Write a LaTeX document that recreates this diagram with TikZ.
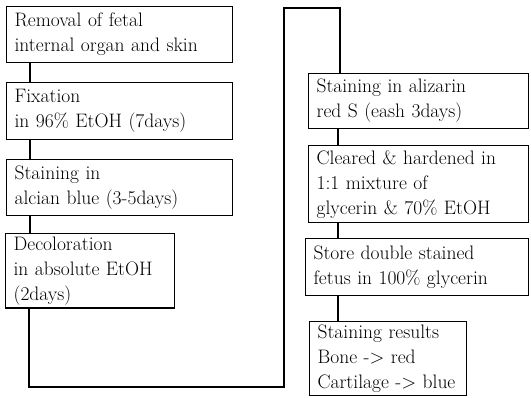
\documentclass[tikz,border=0pt]{standalone}
\begin{document}
\begin{tikzpicture}[x=1pt,y=-1pt,
        stepbox/.style={draw, line width=1.2pt, anchor=north west, align=left,
            inner xsep=8pt, inner ysep=3pt, font=\fontsize{19.5}{25}\selectfont},
        link/.style={line width=1.2pt}]
        \useasboundingbox (0,0) rectangle (531,397);
        % left column
        \node[stepbox, text width=210pt, minimum height=56pt] (removal) at (6,6) {Removal of fetal\\internal organ and skin};
        \node[stepbox, text width=210pt, minimum height=57pt] (fixation) at (6,82) {Fixation\\in 96\% EtOH (7days)};
        \node[stepbox, text width=210pt, minimum height=56pt] (alcian) at (6,159) {Staining in\\alcian blue (3-5days)};
        \node[stepbox, text width=153pt, minimum height=74pt] (decolor) at (5,233) {Decoloration\\in absolute EtOH\\(2days)};
        % right column
        \node[stepbox, text width=204pt, minimum height=55pt] (alizarin) at (308,73) {Staining in alizarin\\red S (eash 3days)};
        \node[stepbox, text width=204pt, minimum height=77pt] (cleared) at (308,145) {Cleared \& hardened in\\1:1 mixture of\\glycerin \& 70\% EtOH};
        \node[stepbox, text width=207pt, minimum height=57pt] (store) at (305,238) {Store double stained\\fetus in 100\% glycerin};
        \node[stepbox, text width=141pt, minimum height=72pt] (results) at (309,321) {Staining results\\Bone -> red\\Cartilage -> blue};
        \coordinate (bottomturn) at (284,387);
        \coordinate (topturn) at (340,8);
        % connectors
        \draw[link] ([xshift=24pt]removal.south west) -- ([xshift=24pt]fixation.north west);
        \draw[link] ([xshift=24pt]fixation.south west) -- ([xshift=24pt]alcian.north west);
        \draw[link] ([xshift=24pt]alcian.south west) -- ([xshift=25pt]decolor.north west);
        \draw[link] ([xshift=24pt]decolor.south west) |- (bottomturn) |- (topturn) -- ([xshift=32pt]alizarin.north west);
        \draw[link] ([xshift=30pt]alizarin.south west) -- ([xshift=30pt]cleared.north west);
        \draw[link] ([xshift=30pt]cleared.south west) -- ([xshift=33pt]store.north west);
        \draw[link] ([xshift=33pt]store.south west) -- ([xshift=29pt]results.north west);
\end{tikzpicture}
\end{document}
